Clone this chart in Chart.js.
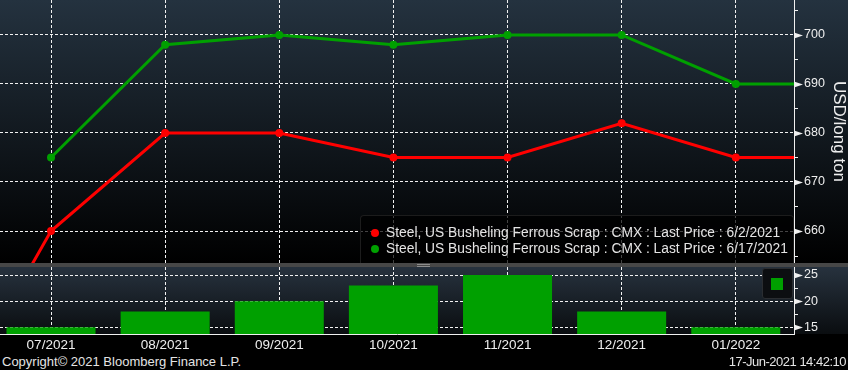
<!DOCTYPE html>
<html>
<head>
<meta charset="utf-8">
<script src="https://cdn.jsdelivr.net/npm/chart.js@4.4.1/dist/chart.umd.min.js"></script>
<style>
    body { margin: 0; width: 848px; height: 370px; overflow: hidden; position: relative; background: #000; font-family: "Liberation Sans", Arial, sans-serif; color: #e4e4e4; }
    canvas { position: absolute; left: 0; }
    #topChart { top: 0; }
    #bottomChart { top: 267px; }
    #sep { position: absolute; left: 0; top: 263px; width: 848px; height: 4px; background: #474747; }
    #grip { position: absolute; left: 417px; top: 264px; width: 13px; height: 1px; border-bottom: 1px solid #8c8c8c; border-top: 1px solid #8c8c8c; }
    #legend { position: absolute; left: 360px; top: 215px; width: 434px; height: 48px; background: rgba(0, 0, 0, 0.72); border: 1px solid #1c1c1c; border-bottom: none; border-radius: 4px 4px 0 0; box-sizing: border-box; padding-top: 9px; }
    #legend .row { height: 16px; line-height: 16px; font-size: 13.8px; white-space: nowrap; padding-left: 10px; }
    #legend .dot { display: inline-block; width: 8px; height: 8px; border-radius: 50%; margin-right: 7px; vertical-align: 0px; }
    #barKey { position: absolute; left: 762px; top: 268px; width: 31px; height: 31px; background: #0c0e11; border: 1px solid #2a2d31; border-radius: 3px; box-sizing: border-box; }
    #barKey span { position: absolute; left: 8px; top: 9px; width: 12px; height: 12px; }
    .foot { position: absolute; top: 354px; font-size: 13px; line-height: 15px; }
</style>
</head>
<body>
<canvas id="topChart" width="848" height="263"></canvas>
<div id="sep"></div><div id="grip"></div>
<canvas id="bottomChart" width="848" height="86"></canvas>
<div id="legend"></div>
<div id="barKey"><span></span></div>
<div class="foot" style="left:2px">Copyright© 2021 Bloomberg Finance L.P.</div>
<div class="foot" style="right:2px; letter-spacing:-0.5px">17-Jun-2021 14:42:10</div>
<script>
// contract months; 06/2021 and 02/2022 only show as line ends at the panel edges
const months = ['06/2021', '07/2021', '08/2021', '09/2021', '10/2021', '11/2021', '12/2021', '01/2022', '02/2022'];
const priceJun2 = [619, 660, 680, 680, 675, 675, 682, 675, 675];
const priceJun17 = [null, 675, 698, 700, 698, 700, 700, 690, 690];
const spread = [null, 15, 18, 20, 23, 25, 18, 15, null];

const seriesLabels = [
    'Steel, US Busheling Ferrous Scrap : CMX : Last Price : 6/2/2021',
    'Steel, US Busheling Ferrous Scrap : CMX : Last Price : 6/17/2021'
];
const priceMajorTicks = [660, 670, 680, 690, 700];
const priceMinorTicks = [655, 665, 675, 685, 695, 705];
const spreadMajorTicks = [15, 20, 25];
const spreadMinorTicks = [17.5, 22.5];

const RED = '#ff0000';
const GREEN = '#00a000';
const GRID = '#f2f2f2';
const DASH = [3, 2];
const FONT = '"Liberation Sans", Arial, sans-serif';

function toPoints(values) {
    return values.map((v, i) => ({ x: i, y: v }));
}

function noPadding(s) {
    s.paddingTop = 0;
    s.paddingBottom = 0;
    s.paddingLeft = 0;
    s.paddingRight = 0;
}

function setTicks(major, minor) {
    return s => {
        s.ticks = major.concat(minor).sort((a, b) => a - b).map(v => ({ value: v }));
    };
}

const panelBg = {
    id: 'panelBg',
    beforeDraw(chart, args, opts) {
        const { ctx, chartArea } = chart;
        const g = ctx.createLinearGradient(0, chartArea.top, 0, chartArea.bottom);
        g.addColorStop(0, opts.top);
        g.addColorStop(1, opts.bottom);
        ctx.save();
        ctx.fillStyle = g;
        ctx.fillRect(0, chartArea.top, chart.width, chartArea.bottom - chartArea.top);
        ctx.restore();
    }
};

// arrow heads for major ticks, short dashes for minor ones
const tickMarks = {
    id: 'tickMarks',
    afterDraw(chart, args, opts) {
        const s = chart.scales.y;
        const ctx = chart.ctx;
        const x0 = chart.chartArea.right;
        ctx.save();
        ctx.fillStyle = '#f0f0f0';
        ctx.strokeStyle = '#f0f0f0';
        ctx.lineWidth = 1;
        s.ticks.forEach(t => {
            const y = Math.round(s.getPixelForValue(t.value)) + 0.5;
            if (opts.major.includes(t.value)) {
                ctx.beginPath();
                ctx.moveTo(x0, y - 3);
                ctx.lineTo(x0 + 9, y);
                ctx.lineTo(x0, y + 3);
                ctx.closePath();
                ctx.fill();
            } else {
                ctx.beginPath();
                ctx.moveTo(x0, y);
                ctx.lineTo(x0 + 4, y);
                ctx.stroke();
            }
        });
        ctx.restore();
    }
};

const monthGridTicks = scale => {
    scale.ticks = months.map((m, i) => ({ value: i })).filter(t => t.value >= scale.min && t.value <= scale.max);
};

const X_MIN = 0.553;
const X_MAX = 7.51;

function createTopChart() {
    const ctx = document.getElementById('topChart').getContext('2d');
    return new Chart(ctx, {
        type: 'line',
        data: {
            datasets: [{
                label: seriesLabels[0],
                data: toPoints(priceJun2),
                borderColor: RED,
                backgroundColor: RED,
                borderWidth: 3,
                pointRadius: 4,
                pointBorderWidth: 0,
                tension: 0
            }, {
                label: seriesLabels[1],
                data: toPoints(priceJun17),
                borderColor: GREEN,
                backgroundColor: GREEN,
                borderWidth: 3,
                pointRadius: 4,
                pointBorderWidth: 0,
                tension: 0
            }]
        },
        options: {
            responsive: false,
            animation: false,
            layout: { padding: 0, autoPadding: false },
            plugins: {
                legend: { display: false },
                tooltip: { enabled: false },
                panelBg: { top: '#24323f', bottom: '#000000' },
                tickMarks: { major: priceMajorTicks }
            },
            scales: {
                x: {
                    type: 'linear',
                    min: X_MIN,
                    max: X_MAX,
                    afterBuildTicks: monthGridTicks,
                    afterFit: s => { noPadding(s); s.height = 0; },
                    ticks: { display: false },
                    grid: { color: GRID, drawTicks: false, lineWidth: 1 },
                    border: { display: false, dash: DASH }
                },
                y: {
                    position: 'right',
                    min: 653.47,
                    max: 707.14,
                    afterBuildTicks: setTicks(priceMajorTicks, priceMinorTicks),
                    afterFit: s => { noPadding(s); s.width = 54; },
                    ticks: {
                        padding: 10,
                        autoSkip: false,
                        color: '#eeeeee',
                        font: { family: FONT, size: 12.5 },
                        callback: v => priceMajorTicks.includes(v) ? String(v) : ''
                    },
                    grid: {
                        drawTicks: false,
                        color: c => c.tick && priceMajorTicks.includes(c.tick.value) ? GRID : 'transparent'
                    },
                    border: { color: '#f0f0f0', width: 1, dash: DASH },
                    title: {
                        display: true,
                        text: 'USD/long ton',
                        color: '#eeeeee',
                        padding: { top: -1, bottom: 0 },
                        font: { family: FONT, size: 17 }
                    }
                }
            }
        },
        plugins: [panelBg, tickMarks]
    });
}

function createBottomChart() {
    const ctx = document.getElementById('bottomChart').getContext('2d');
    return new Chart(ctx, {
        type: 'bar',
        data: {
            datasets: [{
                label: 'Spread',
                data: toPoints(spread),
                backgroundColor: GREEN,
                borderWidth: 0,
                barPercentage: 0.78,
                categoryPercentage: 1
            }]
        },
        options: {
            responsive: false,
            animation: false,
            layout: { padding: 0, autoPadding: false },
            plugins: {
                legend: { display: false },
                tooltip: { enabled: false },
                panelBg: { top: '#27323e', bottom: '#0a0d10' },
                tickMarks: { major: spreadMajorTicks }
            },
            scales: {
                x: {
                    type: 'linear',
                    min: X_MIN,
                    max: X_MAX,
                    offset: false,
                    afterBuildTicks: monthGridTicks,
                    afterFit: s => { noPadding(s); s.height = 19; },
                    ticks: {
                        padding: 3,
                        maxRotation: 0,
                        autoSkip: false,
                        color: '#eeeeee',
                        font: { family: FONT, size: 13.5 },
                        callback: v => months[v]
                    },
                    grid: { color: GRID, drawTicks: false, offset: false },
                    border: { color: '#f0f0f0', width: 1, dash: DASH }
                },
                y: {
                    position: 'right',
                    min: 13.72,
                    max: 26.53,
                    afterBuildTicks: setTicks(spreadMajorTicks, spreadMinorTicks),
                    afterFit: s => { noPadding(s); s.width = 54; },
                    ticks: {
                        padding: 10,
                        autoSkip: false,
                        color: '#eeeeee',
                        font: { family: FONT, size: 12.5 },
                        callback: v => spreadMajorTicks.includes(v) ? String(v) : ''
                    },
                    grid: {
                        drawTicks: false,
                        color: c => c.tick && spreadMajorTicks.includes(c.tick.value) ? GRID : 'transparent'
                    },
                    border: { color: '#f0f0f0', width: 1, dash: DASH }
                }
            }
        },
        plugins: [panelBg, tickMarks]
    });
}

function buildLegend(chart) {
    const box = document.getElementById('legend');
    chart.data.datasets.forEach(ds => {
        const row = document.createElement('div');
        row.className = 'row';
        const dot = document.createElement('span');
        dot.className = 'dot';
        dot.style.background = ds.borderColor;
        row.appendChild(dot);
        row.appendChild(document.createTextNode(ds.label));
        box.appendChild(row);
    });
}

document.addEventListener('DOMContentLoaded', () => {
    const topChart = createTopChart();
    const bottomChart = createBottomChart();
    buildLegend(topChart);
    document.querySelector('#barKey span').style.background = bottomChart.data.datasets[0].backgroundColor;
});
</script>
</body>
</html>
